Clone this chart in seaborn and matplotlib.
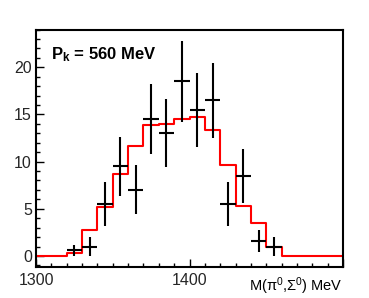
import numpy as np
import pandas as pd
import matplotlib
matplotlib.use("Agg")
import matplotlib.pyplot as plt
import seaborn as sns
from matplotlib.ticker import MultipleLocator, FixedLocator

# ---- data ----
bin_edges = [1300, 1310, 1320, 1330, 1340, 1350, 1360, 1370, 1380, 1390, 1400,
             1410, 1420, 1430, 1440, 1450, 1460, 1470, 1480, 1490, 1500]
sim_counts = [0, 0, 0.3, 2.8, 5.15, 8.7, 11.65, 13.85, 13.98, 14.48, 14.7,
              13.4, 9.6, 5.3, 3.45, 1.0, 0, 0, 0, 0]
data_x = [1325, 1335, 1345, 1355, 1365, 1375, 1385, 1395, 1405, 1415, 1425, 1435, 1445, 1455]
data_y = [0.6, 1.0, 5.5, 9.5, 7.0, 14.5, 13.0, 18.5, 15.5, 16.5, 5.5, 8.5, 1.6, 1.0]
data_err = [0.6, 1.0, 2.3, 3.1, 2.6, 3.7, 3.6, 4.3, 3.9, 4.0, 2.3, 2.85, 1.2, 1.0]
x_major = [1300, 1400, 1500]
x_major_labels = ["1300", "1400", ""]
y_major = [0, 5, 10, 15, 20]

sns.set_theme(style="white")
plt.rcParams['font.family'] = ['Liberation Sans', 'DejaVu Sans']
plt.rcParams['mathtext.fontset'] = 'custom'
plt.rcParams['mathtext.rm'] = 'Liberation Sans'
plt.rcParams['mathtext.it'] = 'Liberation Sans:italic'
plt.rcParams['mathtext.bf'] = 'Liberation Sans:bold'

fig = plt.figure(figsize=(3.69, 2.98), dpi=100)
ax = fig.add_axes([36/369, 1-267/298, (343-36)/369, (267-29.5)/298])

centers = [(bin_edges[i] + bin_edges[i+1]) / 2 for i in range(len(bin_edges)-1)]
df = pd.DataFrame({"m": centers, "w": sim_counts})
sns.histplot(data=df, x="m", weights="w", bins=bin_edges, element="step",
             fill=False, color="#ff0000", linewidth=1.5, ax=ax)

ax.errorbar(data_x, data_y, yerr=data_err, xerr=5, fmt='none',
            ecolor='black', elinewidth=1.5, capsize=0)

ax.set_xlim(1300, 1500)
ax.set_ylim(-1.17, 24.0)
ax.set_xlabel("")
ax.set_ylabel("")

ax.xaxis.set_major_locator(FixedLocator(x_major))
ax.set_xticklabels(x_major_labels)
ax.xaxis.set_minor_locator(MultipleLocator(10))
ax.yaxis.set_major_locator(FixedLocator(y_major))
ax.yaxis.set_minor_locator(MultipleLocator(1))
ax.tick_params(axis='both', which='both', direction='in', color='black',
               labelsize=11.5, top=False, right=False, bottom=True, left=True)
ax.tick_params(axis='x', which='major', length=6, width=1, pad=4)
ax.tick_params(axis='x', which='minor', length=3, width=1)
ax.tick_params(axis='y', which='major', length=6, width=1, pad=3)
ax.tick_params(axis='y', which='minor', length=3, width=1)

for s in ax.spines.values():
    s.set_visible(True)
    s.set_color('black')
    s.set_linewidth(1.5)

ax.text(0.048, 0.893, r"P$_\mathbf{k}$ = 560 MeV", transform=ax.transAxes,
        fontsize=12, fontweight='bold', ha='left', va='center', color='black')
ax.text(1.0, -0.125, r"M(π$^0$,Σ$^0$) MeV", transform=ax.transAxes,
        fontsize=10.5, ha='right', va='bottom', color='black')

fig.savefig("out.png", dpi=100, facecolor='white')
